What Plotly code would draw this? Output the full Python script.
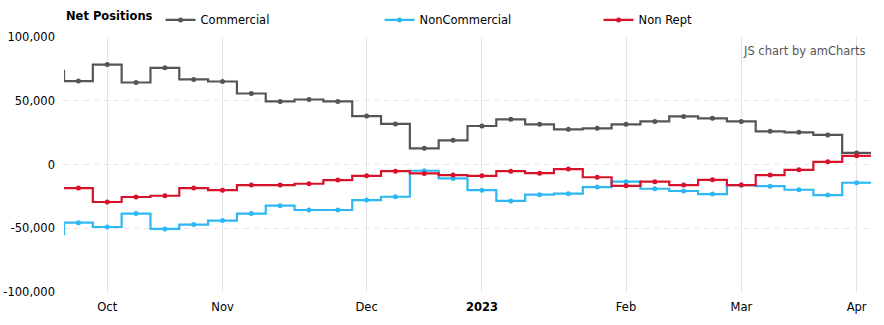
import plotly.graph_objects as go
from datetime import datetime, timedelta

# ---- data ----
dates = ["2022-09-20", "2022-09-27", "2022-10-04", "2022-10-11", "2022-10-18", "2022-10-25",
         "2022-11-01", "2022-11-08", "2022-11-15", "2022-11-22", "2022-11-29",
         "2022-12-06", "2022-12-13", "2022-12-20", "2022-12-27",
         "2023-01-03", "2023-01-10", "2023-01-17", "2023-01-24", "2023-01-31",
         "2023-02-07", "2023-02-14", "2023-02-21", "2023-02-28",
         "2023-03-07", "2023-03-14", "2023-03-21", "2023-03-28", "2023-04-04"]

commercial = [73400, 65400, 78400, 64300, 75800, 66700, 65100, 55700, 49500, 51000, 49500,
              38000, 31800, 12700, 19000, 30200, 35400, 31500, 27600, 28400,
              31500, 33800, 37700, 36200, 33800, 26000, 25200, 23200, 9100]
noncommercial = [-54700, -45600, -49000, -38500, -50500, -47100, -44000, -38500, -32300, -35700, -35700,
                 -27900, -25300, -4900, -10900, -20100, -28600, -23700, -22900, -17700,
                 -13500, -19000, -20800, -23200, -16100, -17000, -19800, -24000, -14300]
nonrept = [-18500, -18500, -29400, -25500, -24500, -18500, -20100, -16100, -16100, -15100, -12200,
           -8900, -5200, -7000, -8300, -8900, -5200, -6800, -3600, -10000,
           -16700, -13500, -16100, -12000, -16100, -8300, -4200, 2100, 6800]

series_names = ["Commercial", "NonCommercial", "Non Rept"]
series_colors = ["#555555", "#2db8f4", "#d7122b"]

tick_dates = ["2022-10-04", "2022-11-01", "2022-12-06", "2023-01-03", "2023-02-07", "2023-03-07", "2023-04-04"]
tick_labels = ["Oct", "Nov", "Dec", "<b>2023</b>", "Feb", "Mar", "Apr"]

y_ticks = [-100000, -50000, 0, 50000, 100000]
y_labels = [f"{v:,}" for v in y_ticks]

# ---- figure ----
FONT = "DejaVu Sans"
FS = 11.5
fig = go.Figure()

d0 = datetime.strptime(dates[0], "%Y-%m-%d")
d1 = datetime.strptime(dates[1], "%Y-%m-%d")
dl = datetime.strptime(dates[-1], "%Y-%m-%d")
half = (d1 - d0) / 2

for name, vals, col in zip(series_names, [commercial, noncommercial, nonrept], series_colors):
    fig.add_trace(go.Scatter(
        x=dates, y=vals, name=name, mode="lines+markers",
        line=dict(color=col, width=2.2, shape="hvh"),
        marker=dict(color=col, size=5),
        legendgroup=name,
    ))
    # trailing half step of the last value
    fig.add_trace(go.Scatter(
        x=[dl, dl + 2 * half], y=[vals[-1], vals[-1]], mode="lines",
        line=dict(color=col, width=2.2), showlegend=False, legendgroup=name, hoverinfo="skip",
    ))

fig.update_layout(
    width=884, height=325,
    margin=dict(l=64, r=13, t=37, b=33, autoexpand=False),
    paper_bgcolor="white", plot_bgcolor="white",
    font=dict(family=FONT, size=FS, color="#000000"),
    showlegend=True,
    legend=dict(
        orientation="h", x=0, xanchor="left", y=1.067, yanchor="middle",
        title=dict(text="<b>Net Positions</b>", font=dict(family=FONT, size=FS)),
        entrywidth=174, entrywidthmode="pixels",
        font=dict(family=FONT, size=FS),
        itemwidth=30,
        bgcolor="rgba(0,0,0,0)",
    ),
    xaxis=dict(
        type="date",
        range=[d1 - half, dl + half],
        tickvals=tick_dates, ticktext=tick_labels,
        showgrid=True, gridcolor="#e3e3e3", gridwidth=1,
        showline=False, zeroline=False, ticks="",
        ticklabelstandoff=6,
        tickfont=dict(family=FONT, size=FS, color="#000"),
    ),
    yaxis=dict(
        range=[-100000, 100000],
        tickvals=y_ticks, ticktext=y_labels,
        showgrid=True, gridcolor="#e6e6e6", gridwidth=1, griddash="5px,5px",
        zeroline=False, showline=False, ticks="",
        ticklabelstandoff=8,
        tickfont=dict(family=FONT, size=FS, color="#000"),
    ),
    annotations=[dict(
        text="JS chart by amCharts", xref="paper", yref="paper",
        x=1, y=0.945, xanchor="right", yanchor="middle", xshift=-3,
        showarrow=False, font=dict(family=FONT, size=FS, color="#555555"),
    )],
)

fig.write_html("out.html")
